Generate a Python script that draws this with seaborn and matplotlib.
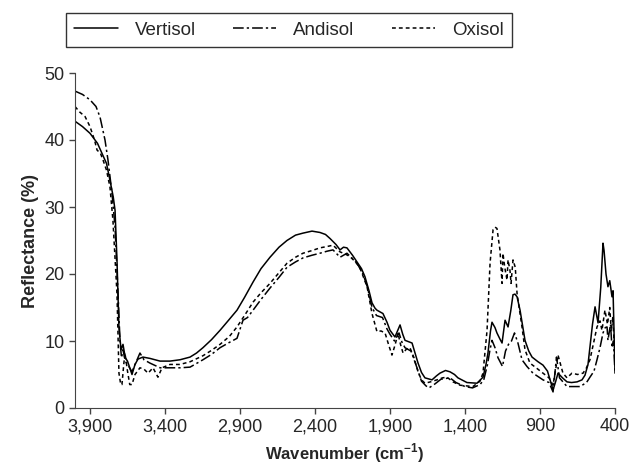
import numpy as np
import pandas as pd
import seaborn as sns
import matplotlib.pyplot as plt

# wavenumbers (cm-1) and reflectance (%)
wn_vertisol = [4000, 3950, 3900, 3850, 3820, 3790, 3767, 3745, 3733, 3720, 3707, 3693, 3680, 3665,
               3650, 3635, 3620, 3600, 3580, 3547, 3500, 3433, 3367, 3300, 3233, 3190, 3147, 3090,
               3033, 2980, 2920, 2870, 2813, 2760, 2700, 2640, 2587, 2530, 2480, 2420, 2367, 2330,
               2300, 2260, 2233, 2210, 2187, 2150, 2120, 2090, 2067, 2040, 2020, 2000, 1987, 1947,
               1920, 1900, 1867, 1833, 1815, 1800, 1753, 1713, 1690, 1667, 1620, 1590, 1567, 1530,
               1500, 1470, 1447, 1387, 1320, 1280, 1260, 1247, 1230, 1220, 1200, 1187, 1165, 1153,
               1133, 1113, 1095, 1080, 1067, 1053, 1033, 1000, 975, 953, 913, 880, 850, 813, 795,
               780, 750, 720, 690, 653, 620, 600, 580, 567, 550, 533, 513, 495, 480, 473, 460, 447,
               435, 420, 413, 405, 400]
vertisol = [42.8, 42.0, 41.0, 39.5, 38.0, 36.5, 34.0, 31.5, 29.5, 22.0, 12.0, 8.7, 9.5, 7.5,
            7.0, 6.0, 5.0, 6.5, 7.3, 7.6, 7.4, 7.0, 7.0, 7.2, 7.6, 8.2, 9.0, 10.2,
            11.6, 13.0, 14.6, 16.5, 18.8, 20.8, 22.5, 24.0, 25.0, 25.8, 26.1, 26.4, 26.2, 25.9,
            25.3, 24.4, 23.6, 24.0, 23.9, 22.8, 21.8, 20.8, 19.6, 17.5, 15.7, 14.9, 14.6, 14.1,
            12.8, 11.6, 10.6, 12.4, 11.0, 10.1, 9.7, 6.7, 5.3, 4.5, 4.2, 4.8, 5.2, 5.6,
            5.4, 5.0, 4.5, 3.8, 3.7, 4.6, 6.5, 8.2, 11.5, 12.8, 12.0, 11.2, 10.2, 9.7,
            13.1, 12.1, 14.5, 16.9, 17.0, 16.6, 14.6, 10.1, 8.5, 7.6, 6.9, 6.4, 5.5, 2.7, 4.0,
            5.2, 4.5, 3.9, 3.8, 3.9, 4.2, 4.9, 6.5, 9.1, 12.5, 15.1, 12.7, 18.0, 24.6, 23.5, 20.0, 18.1,
            19.0, 16.6, 17.5, 10.0, 5.2]

wn_andisol = [4000, 3950, 3900, 3860, 3833, 3800, 3780, 3753, 3733, 3713, 3700, 3690, 3680, 3665,
              3650, 3620, 3590, 3567, 3540, 3500, 3433, 3367, 3300, 3233, 3147, 3090, 3033, 2970,
              2920, 2880, 2850, 2813, 2760, 2700, 2640, 2587, 2530, 2480, 2420, 2367, 2320, 2280,
              2233, 2187, 2150, 2120, 2080, 2050, 2020, 1990, 1950, 1920, 1900, 1870, 1840, 1820,
              1800, 1760, 1720, 1690, 1660, 1640, 1600, 1560, 1500, 1460, 1400, 1350, 1300, 1275,
              1250, 1235, 1220, 1200, 1180, 1150, 1130, 1110, 1090, 1070, 1047, 1020, 987, 947,
              880, 840, 813, 790, 770, 720, 633, 590, 567, 540, 520, 500, 480, 465, 453, 447,
              430, 420, 410, 400]
andisol = [47.3, 46.8, 46.0, 45.0, 43.4, 40.0, 37.0, 32.0, 27.0, 17.0, 10.0, 7.5, 8.7, 7.0,
           6.5, 5.4, 7.0, 8.2, 7.2, 6.7, 6.0, 6.0, 6.0, 6.1, 7.2, 8.0, 9.0, 9.8,
           10.4, 13.1, 13.5, 14.6, 16.2, 17.9, 19.5, 21.0, 21.8, 22.4, 22.8, 23.1, 23.4, 23.6,
           22.5, 23.1, 22.3, 21.6, 20.0, 18.0, 15.0, 13.8, 13.5, 11.8, 11.0, 10.0, 11.2, 9.8,
           9.0, 8.5, 6.0, 4.0, 3.3, 3.0, 3.6, 4.3, 4.5, 3.8, 3.2, 3.0, 3.5, 4.2,
           6.5, 8.5, 10.1, 9.0, 7.5, 6.2, 8.5, 9.5, 10.0, 11.2, 9.7, 7.2, 6.2, 5.2,
           4.2, 3.8, 2.4, 7.6, 4.5, 3.2, 3.2, 3.8, 4.6, 5.5, 7.2, 9.0, 11.2, 12.0, 12.1, 10.1,
           12.5, 9.0, 10.0, 5.2]

wn_oxisol = [4000, 3970, 3933, 3900, 3870, 3853, 3830, 3813, 3790, 3767, 3747, 3720, 3707, 3695,
             3687, 3675, 3667, 3650, 3635, 3620, 3600, 3567, 3540, 3513, 3480, 3447, 3420, 3367,
             3300, 3233, 3147, 3090, 3033, 2970, 2920, 2870, 2813, 2760, 2700, 2640, 2587, 2530,
             2480, 2420, 2367, 2320, 2280, 2233, 2200, 2167, 2130, 2100, 2053, 2020, 1987, 1960,
             1933, 1910, 1887, 1865, 1847, 1830, 1813, 1790, 1767, 1740, 1713, 1690, 1667, 1630,
             1587, 1550, 1520, 1480, 1433, 1347, 1300, 1280, 1253, 1233, 1213, 1200, 1187, 1167,
             1153, 1147, 1135, 1120, 1113, 1100, 1093, 1080, 1065, 1053, 1020, 1000, 967, 920,
             880, 840, 813, 780, 747, 720, 687, 650, 613, 590, 567, 540, 520, 500, 487, 467,
             450, 435, 425, 415, 405, 400]
oxisol = [45.0, 44.2, 43.5, 42.0, 40.0, 38.5, 38.0, 37.0, 35.5, 33.0, 28.0, 17.0, 5.2, 3.5,
          3.5, 6.5, 8.2, 5.5, 3.5, 3.5, 5.0, 6.0, 5.8, 5.2, 6.0, 4.6, 6.0, 6.5,
          6.5, 6.9, 7.8, 8.6, 9.5, 10.7, 12.1, 13.8, 15.8, 17.2, 18.6, 20.2, 21.6, 22.5,
          23.1, 23.5, 23.9, 24.1, 24.3, 23.3, 23.0, 22.6, 21.8, 20.9, 18.1, 14.1, 11.4, 11.5,
          11.2, 9.5, 7.9, 9.5, 11.2, 9.5, 8.2, 8.8, 9.0, 7.5, 5.4, 4.2, 3.7, 3.9,
          4.2, 4.5, 4.6, 3.9, 3.4, 3.2, 4.0, 5.2, 11.6, 21.6, 26.6, 27.0, 26.8, 23.6,
          18.6, 23.1, 21.0, 19.1, 22.1, 20.5, 18.6, 22.1, 21.0, 17.1, 12.1, 8.7, 6.7, 5.9,
          5.2, 4.5, 3.4, 7.9, 5.2, 4.5, 5.2, 5.0, 5.2, 6.0, 7.2, 10.0, 12.1, 13.0, 11.6, 14.6,
          12.5, 15.0, 11.5, 13.5, 9.5, 9.5]

soils = ["Vertisol", "Andisol", "Oxisol"]

df = pd.concat([
    pd.DataFrame({"wn": wn_vertisol, "refl": vertisol, "soil": "Vertisol"}),
    pd.DataFrame({"wn": wn_andisol, "refl": andisol, "soil": "Andisol"}),
    pd.DataFrame({"wn": wn_oxisol, "refl": oxisol, "soil": "Oxisol"}),
], ignore_index=True)

sns.set_style("ticks")
plt.rcParams["font.family"] = ["Liberation Sans Narrow", "Liberation Sans", "DejaVu Sans"]

fig = plt.figure(figsize=(6.32, 4.70), dpi=100)
ax = fig.add_axes([75 / 632, 1 - 408 / 470, 540 / 632, 335 / 470])

sns.lineplot(data=df, x="wn", y="refl", hue="soil", style="soil",
             hue_order=soils, style_order=soils,
             palette={s: "black" for s in soils},
             dashes={"Vertisol": "", "Andisol": (7, 2, 1.5, 2), "Oxisol": (2.5, 2)},
             sort=False, estimator=None, linewidth=1.1, ax=ax, legend=True)

ax.set_xlim(4000, 400)
ax.set_ylim(0, 50)
ax.set_xticks(np.arange(3900, 399, -500))
ax.set_xticklabels([f"{v:,}" for v in range(3900, 399, -500)])
ax.set_yticks(range(0, 51, 10))
ax.tick_params(labelsize=13, length=4, width=1, color="#444444", direction="out")
for s in ["left", "bottom"]:
    ax.spines[s].set_color("#444444")
sns.despine(ax=ax)

ax.set_xlabel(r"Wavenumber (cm$^{\mathregular{-1}}$)", fontsize=12, fontweight="bold")
ax.set_ylabel("Reflectance (%)", fontsize=13, fontweight="bold")

handles, labels = ax.get_legend_handles_labels()
ax.get_legend().remove()
leg = fig.legend(handles, labels, loc="center", bbox_to_anchor=(289 / 632, 1 - 30 / 470),
                 ncol=3, fontsize=13.5, frameon=True, fancybox=False, edgecolor="black",
                 handlelength=2.3, handletextpad=0.9, columnspacing=2.0, borderpad=0.45)
leg.get_frame().set_linewidth(1.0)

fig.savefig("out.png", dpi=100)
